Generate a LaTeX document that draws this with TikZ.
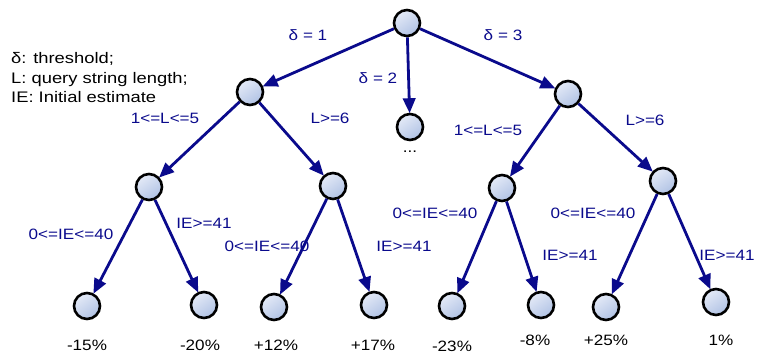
\documentclass[tikz,border=0pt]{standalone}
\usepackage{fontspec}
\setmainfont{Liberation Sans}
\newfontfamily\widefont[FakeStretch=1.14]{Liberation Sans}
\newfontfamily\legendfont[FakeStretch=1.2]{Liberation Sans}
\usetikzlibrary{arrows.meta,shadows}
\definecolor{navy}{RGB}{10,10,140}
\definecolor{dotlight}{RGB}{228,234,247}
\definecolor{dotdark}{RGB}{176,194,228}
\begin{document}
\begin{tikzpicture}[x=1pt,y=-1pt,
  dot/.style={circle, draw=black, line width=2.6pt, minimum size=26pt, inner sep=0pt,
    top color=dotlight, bottom color=dotdark, shading angle=35,
    drop shadow={shadow xshift=0.8pt, shadow yshift=-0.8pt, opacity=0.25}},
  conn/.style={draw=navy, line width=2.8pt, -{Triangle[length=15pt,width=12.5pt]}, shorten >=-0.5pt},
  lab/.style={text=navy, inner sep=0pt, font=\widefont\fontsize{15}{17}\selectfont},
  leaf/.style={text=black, inner sep=0pt, font=\widefont\fontsize{15}{17}\selectfont},
  legend/.style={anchor=base west, inner sep=0pt, font=\legendfont\fontsize{15.3}{17}\selectfont}
]
\useasboundingbox (0,0) rectangle (768,356);
% nodes
\node[dot] (r) at (407,23) {};
\node[dot] (a) at (250,92) {};
\node[dot] (m) at (410,127) {};
\node[dot] (b) at (568,94) {};
\node[dot] (a1) at (149,187) {};
\node[dot] (a2) at (333,186) {};
\node[dot] (b1) at (502,188) {};
\node[dot] (b2) at (663,181) {};
\node[dot] (l1) at (87,306) {};
\node[dot] (l2) at (204,305) {};
\node[dot] (l3) at (274,307) {};
\node[dot] (l4) at (374,305) {};
\node[dot] (l5) at (452,306) {};
\node[dot] (l6) at (541,305) {};
\node[dot] (l7) at (606,307) {};
\node[dot] (l8) at (716,302) {};
% connectors
\draw[conn] (r) -- (a);
\draw[conn] (r) -- (m);
\draw[conn] (r) -- (b);
\draw[conn] (a) -- (a1);
\draw[conn] (a) -- (a2);
\draw[conn] (b) -- (b1);
\draw[conn] (b) -- (b2);
\draw[conn] (a1) -- (l1);
\draw[conn] (a1) -- (l2);
\draw[conn] (a2) -- (l3);
\draw[conn] (a2) -- (l4);
\draw[conn] (b1) -- (l5);
\draw[conn] (b1) -- (l6);
\draw[conn] (b2) -- (l7);
\draw[conn] (b2) -- (l8);
% edge labels
\node[lab] (e1) at (308,35) {δ = 1};
\node[lab] (e2) at (378,78) {δ = 2};
\node[lab] (e3) at (503,35) {δ = 3};
\node[lab] (e4) at (165,118) {1<=L<=5};
\node[lab] (e5) at (330,118) {L>=6};
\node[lab] (e6) at (488,130) {1<=L<=5};
\node[lab] (e7) at (645,120) {L>=6};
\node[lab] (e8) at (71,234) {0<=IE<=40};
\node[lab] (e9) at (204,223) {IE>=41};
\node[lab] (e10) at (267,246) {0<=IE<=40};
\node[lab] (e11) at (404,246) {IE>=41};
\node[lab] (e12) at (435,213) {0<=IE<=40};
\node[lab] (e13) at (570,255) {IE>=41};
\node[lab] (e14) at (593,213) {0<=IE<=40};
\node[lab] (e15) at (727,255) {IE>=41};
% leaf labels
\node[leaf] (dots) at (410,152) {...};
\node[leaf] (t1) at (87,345) {-15\%};
\node[leaf] (t2) at (200,345) {-20\%};
\node[leaf] (t3) at (276,345) {+12\%};
\node[leaf] (t4) at (373,345) {+17\%};
\node[leaf] (t5) at (452,346) {-23\%};
\node[leaf] (t6) at (535,340) {-8\%};
\node[leaf] (t7) at (606,340) {+25\%};
\node[leaf] (t8) at (721,340) {1\%};
% legend
\node[legend] (g1) at (11,63) {δ: threshold;};
\node[legend] (g2) at (11,83) {L: query string length;};
\node[legend] (g3) at (11,102) {IE: Initial estimate};
\end{tikzpicture}
\end{document}
